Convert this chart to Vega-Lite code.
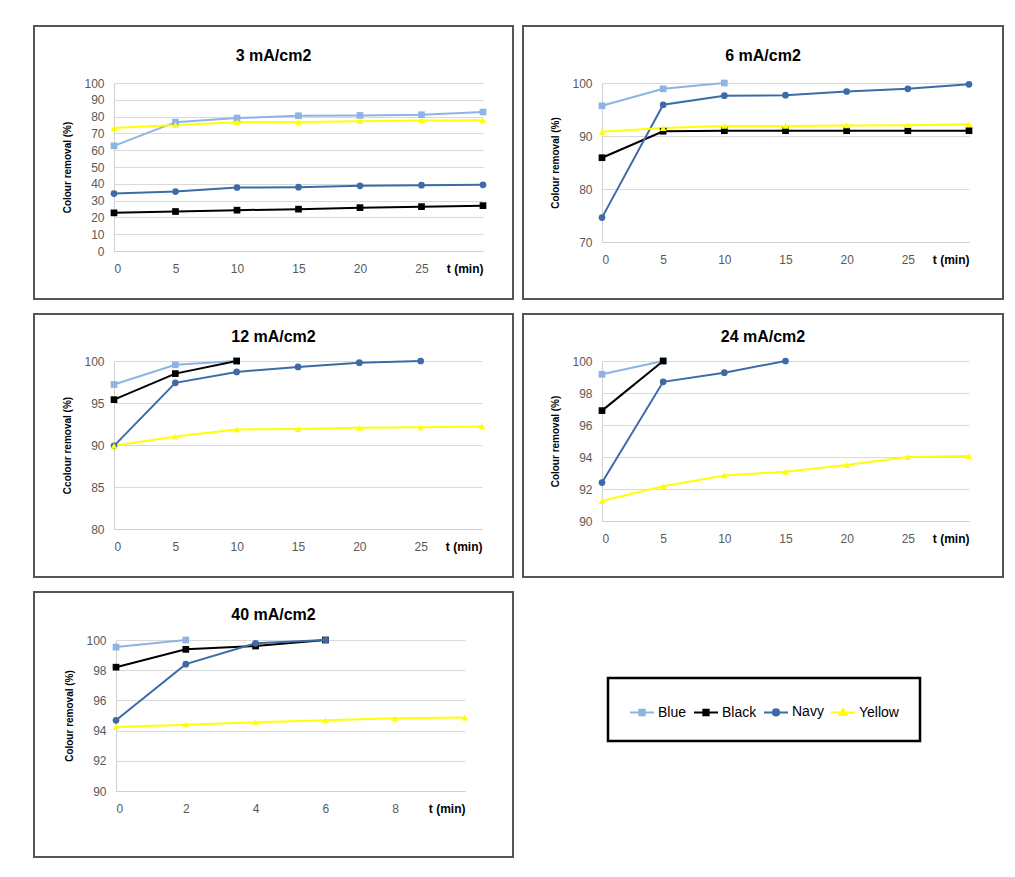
{
  "$schema": "https://vega.github.io/schema/vega-lite/v6.json",
  "padding": {"left": 33, "top": 25, "right": 5, "bottom": 5},
  "background": "white",
  "datasets": {
    "d": [
      {"p":"3","t":0,"dye":"Blue","v":62.6},{"p":"3","t":5,"dye":"Blue","v":76.7},{"p":"3","t":10,"dye":"Blue","v":79.1},{"p":"3","t":15,"dye":"Blue","v":80.5},{"p":"3","t":20,"dye":"Blue","v":80.7},{"p":"3","t":25,"dye":"Blue","v":81.1},{"p":"3","t":30,"dye":"Blue","v":82.7},
      {"p":"3","t":0,"dye":"Black","v":22.7},{"p":"3","t":5,"dye":"Black","v":23.5},{"p":"3","t":10,"dye":"Black","v":24.3},{"p":"3","t":15,"dye":"Black","v":24.9},{"p":"3","t":20,"dye":"Black","v":25.8},{"p":"3","t":25,"dye":"Black","v":26.4},{"p":"3","t":30,"dye":"Black","v":27.0},
      {"p":"3","t":0,"dye":"Navy","v":34.2},{"p":"3","t":5,"dye":"Navy","v":35.4},{"p":"3","t":10,"dye":"Navy","v":37.8},{"p":"3","t":15,"dye":"Navy","v":38.0},{"p":"3","t":20,"dye":"Navy","v":38.8},{"p":"3","t":25,"dye":"Navy","v":39.2},{"p":"3","t":30,"dye":"Navy","v":39.4},
      {"p":"3","t":0,"dye":"Yellow","v":73.2},{"p":"3","t":5,"dye":"Yellow","v":75.0},{"p":"3","t":10,"dye":"Yellow","v":76.7},{"p":"3","t":15,"dye":"Yellow","v":76.8},{"p":"3","t":20,"dye":"Yellow","v":77.3},{"p":"3","t":25,"dye":"Yellow","v":77.7},{"p":"3","t":30,"dye":"Yellow","v":77.9},

      {"p":"6","t":0,"dye":"Blue","v":95.7},{"p":"6","t":5,"dye":"Blue","v":98.9},{"p":"6","t":10,"dye":"Blue","v":100},
      {"p":"6","t":0,"dye":"Black","v":85.9},{"p":"6","t":5,"dye":"Black","v":90.9},{"p":"6","t":10,"dye":"Black","v":91},{"p":"6","t":15,"dye":"Black","v":91},{"p":"6","t":20,"dye":"Black","v":91},{"p":"6","t":25,"dye":"Black","v":91},{"p":"6","t":30,"dye":"Black","v":91},
      {"p":"6","t":0,"dye":"Navy","v":74.6},{"p":"6","t":5,"dye":"Navy","v":95.9},{"p":"6","t":10,"dye":"Navy","v":97.6},{"p":"6","t":15,"dye":"Navy","v":97.7},{"p":"6","t":20,"dye":"Navy","v":98.4},{"p":"6","t":25,"dye":"Navy","v":98.9},{"p":"6","t":30,"dye":"Navy","v":99.75},
      {"p":"6","t":0,"dye":"Yellow","v":90.8},{"p":"6","t":5,"dye":"Yellow","v":91.5},{"p":"6","t":10,"dye":"Yellow","v":91.9},{"p":"6","t":15,"dye":"Yellow","v":91.9},{"p":"6","t":20,"dye":"Yellow","v":92.0},{"p":"6","t":25,"dye":"Yellow","v":92.05},{"p":"6","t":30,"dye":"Yellow","v":92.2},

      {"p":"12","t":0,"dye":"Blue","v":97.2},{"p":"12","t":5,"dye":"Blue","v":99.55},{"p":"12","t":10,"dye":"Blue","v":100},
      {"p":"12","t":0,"dye":"Black","v":95.4},{"p":"12","t":5,"dye":"Black","v":98.5},{"p":"12","t":10,"dye":"Black","v":100},
      {"p":"12","t":0,"dye":"Navy","v":89.9},{"p":"12","t":5,"dye":"Navy","v":97.4},{"p":"12","t":10,"dye":"Navy","v":98.7},{"p":"12","t":15,"dye":"Navy","v":99.3},{"p":"12","t":20,"dye":"Navy","v":99.8},{"p":"12","t":25,"dye":"Navy","v":100},
      {"p":"12","t":0,"dye":"Yellow","v":89.9},{"p":"12","t":5,"dye":"Yellow","v":91.0},{"p":"12","t":10,"dye":"Yellow","v":91.85},{"p":"12","t":15,"dye":"Yellow","v":91.9},{"p":"12","t":20,"dye":"Yellow","v":92.05},{"p":"12","t":25,"dye":"Yellow","v":92.1},{"p":"12","t":30,"dye":"Yellow","v":92.2},

      {"p":"24","t":0,"dye":"Blue","v":99.17},{"p":"24","t":5,"dye":"Blue","v":100},
      {"p":"24","t":0,"dye":"Black","v":96.9},{"p":"24","t":5,"dye":"Black","v":100},
      {"p":"24","t":0,"dye":"Navy","v":92.4},{"p":"24","t":5,"dye":"Navy","v":98.7},{"p":"24","t":10,"dye":"Navy","v":99.27},{"p":"24","t":15,"dye":"Navy","v":100},
      {"p":"24","t":0,"dye":"Yellow","v":91.25},{"p":"24","t":5,"dye":"Yellow","v":92.17},{"p":"24","t":10,"dye":"Yellow","v":92.85},{"p":"24","t":15,"dye":"Yellow","v":93.08},{"p":"24","t":20,"dye":"Yellow","v":93.5},{"p":"24","t":25,"dye":"Yellow","v":94.0},{"p":"24","t":30,"dye":"Yellow","v":94.06},

      {"p":"40","t":0,"dye":"Blue","v":99.53},{"p":"40","t":2,"dye":"Blue","v":100},
      {"p":"40","t":0,"dye":"Black","v":98.2},{"p":"40","t":2,"dye":"Black","v":99.38},{"p":"40","t":4,"dye":"Black","v":99.6},{"p":"40","t":6,"dye":"Black","v":100},
      {"p":"40","t":0,"dye":"Navy","v":94.68},{"p":"40","t":2,"dye":"Navy","v":98.4},{"p":"40","t":4,"dye":"Navy","v":99.78},{"p":"40","t":6,"dye":"Navy","v":100},
      {"p":"40","t":0,"dye":"Yellow","v":94.24},{"p":"40","t":2,"dye":"Yellow","v":94.39},{"p":"40","t":4,"dye":"Yellow","v":94.55},{"p":"40","t":6,"dye":"Yellow","v":94.68},{"p":"40","t":8,"dye":"Yellow","v":94.81},{"p":"40","t":10,"dye":"Yellow","v":94.86}
    ]
  },
  "data": {"name": "d"},
  "columns": 2,
  "spacing": {"row": 15, "column": 10},
  "bounds": "flush",
  "concat": [
    {
      "width": 479, "height": 273,
      "title": {"text": "3 mA/cm2", "offset": -38},
      "transform": [{"filter": "datum.p == '3'"}],
      "encoding": {
        "x": {"field": "t", "type": "quantitative", "scale": {"domain": [0, 30], "range": [80, 449], "nice": false},
              "axis": {"values": [0,5,10,15,20,25,30], "offset": -48, "labelExpr": "datum.value == 30 ? 't (min)' : datum.label",
                       "labelFontWeight": {"condition": {"test": "datum.value == 30", "value": "bold"}, "value": "normal"},
                       "labelColor": {"condition": {"test": "datum.value == 30", "value": "#000000"}, "value": "#595959"}}},
        "y": {"field": "v", "type": "quantitative", "scale": {"domain": [0, 100], "range": [225, 57], "nice": false, "zero": false},
              "axis": {"values": [0,10,20,30,40,50,60,70,80,90,100], "offset": -80, "title": "Colour removal (%)"}},
        "color": {"field": "dye", "type": "nominal",
                  "scale": {"domain": ["Blue","Black","Navy","Yellow"], "range": ["#8DB4E2","#000000","#3D6BA8","#FFFF00"]},
                  "legend": {"title": null, "encode": {"symbols": {"update": {"shape": {"signal": "datum.value === 'Navy' ? 'M-1,0H1M0.26,0A0.26,0.26,0,1,1,-0.26,0A0.26,0.26,0,1,1,0.26,0Z' : datum.value === 'Yellow' ? 'M-1,0H1M0,-0.29L0.29,0.21L-0.29,0.21Z' : 'M-1,0H1M-0.22,-0.22H0.22V0.22H-0.22Z'"}, "fill": {"scale": "color", "field": "value"}, "stroke": {"scale": "color", "field": "value"}, "strokeWidth": {"value": 2}, "opacity": {"value": 1}}}, "legend": {"update": {"strokeWidth": {"value": 2.5}}}}}}
      },
      "layer": [
        {"mark": {"type": "line", "strokeWidth": 2}},
        {"transform": [{"filter": "datum.dye == 'Blue' || datum.dye == 'Black'"}], "mark": {"type": "point", "shape": "square", "filled": true, "opacity": 1, "size": 45}},
        {"transform": [{"filter": "datum.dye == 'Navy'"}], "mark": {"type": "point", "shape": "circle", "filled": true, "opacity": 1, "size": 45}},
        {"transform": [{"filter": "datum.dye == 'Yellow'"}], "mark": {"type": "point", "shape": "triangle-up", "filled": true, "opacity": 1, "size": 45}}
      ]
    },
    {
      "width": 480, "height": 273,
      "title": {"text": "6 mA/cm2", "offset": -38},
      "transform": [{"filter": "datum.p == '6'"}],
      "encoding": {
        "x": {"field": "t", "type": "quantitative", "scale": {"domain": [0, 30], "range": [79, 446], "nice": false},
              "axis": {"values": [0,5,10,15,20,25,30], "offset": -57, "labelExpr": "datum.value == 30 ? 't (min)' : datum.label",
                       "labelFontWeight": {"condition": {"test": "datum.value == 30", "value": "bold"}, "value": "normal"},
                       "labelColor": {"condition": {"test": "datum.value == 30", "value": "#000000"}, "value": "#595959"}}},
        "y": {"field": "v", "type": "quantitative", "scale": {"domain": [70, 100], "range": [216, 57], "nice": false, "zero": false},
              "axis": {"values": [70,80,90,100], "offset": -79, "title": "Colour removal (%)"}},
        "color": {"field": "dye", "type": "nominal",
                  "scale": {"domain": ["Blue","Black","Navy","Yellow"], "range": ["#8DB4E2","#000000","#3D6BA8","#FFFF00"]},
                  "legend": {"title": null, "encode": {"symbols": {"update": {"shape": {"signal": "datum.value === 'Navy' ? 'M-1,0H1M0.26,0A0.26,0.26,0,1,1,-0.26,0A0.26,0.26,0,1,1,0.26,0Z' : datum.value === 'Yellow' ? 'M-1,0H1M0,-0.29L0.29,0.21L-0.29,0.21Z' : 'M-1,0H1M-0.22,-0.22H0.22V0.22H-0.22Z'"}, "fill": {"scale": "color", "field": "value"}, "stroke": {"scale": "color", "field": "value"}, "strokeWidth": {"value": 2}, "opacity": {"value": 1}}}, "legend": {"update": {"strokeWidth": {"value": 2.5}}}}}}
      },
      "layer": [
        {"mark": {"type": "line", "strokeWidth": 2}},
        {"transform": [{"filter": "datum.dye == 'Blue' || datum.dye == 'Black'"}], "mark": {"type": "point", "shape": "square", "filled": true, "opacity": 1, "size": 45}},
        {"transform": [{"filter": "datum.dye == 'Navy'"}], "mark": {"type": "point", "shape": "circle", "filled": true, "opacity": 1, "size": 45}},
        {"transform": [{"filter": "datum.dye == 'Yellow'"}], "mark": {"type": "point", "shape": "triangle-up", "filled": true, "opacity": 1, "size": 45}}
      ]
    },
    {
      "width": 479, "height": 263,
      "title": {"text": "12 mA/cm2", "offset": -31},
      "transform": [{"filter": "datum.p == '12'"}],
      "encoding": {
        "x": {"field": "t", "type": "quantitative", "scale": {"domain": [0, 30], "range": [80, 448], "nice": false},
              "axis": {"values": [0,5,10,15,20,25,30], "offset": -48, "labelExpr": "datum.value == 30 ? 't (min)' : datum.label",
                       "labelFontWeight": {"condition": {"test": "datum.value == 30", "value": "bold"}, "value": "normal"},
                       "labelColor": {"condition": {"test": "datum.value == 30", "value": "#000000"}, "value": "#595959"}}},
        "y": {"field": "v", "type": "quantitative", "scale": {"domain": [80, 100], "range": [215, 47], "nice": false, "zero": false},
              "axis": {"values": [80,85,90,95,100], "offset": -80, "title": "Ccolour removal (%)"}},
        "color": {"field": "dye", "type": "nominal",
                  "scale": {"domain": ["Blue","Black","Navy","Yellow"], "range": ["#8DB4E2","#000000","#3D6BA8","#FFFF00"]},
                  "legend": {"title": null, "encode": {"symbols": {"update": {"shape": {"signal": "datum.value === 'Navy' ? 'M-1,0H1M0.26,0A0.26,0.26,0,1,1,-0.26,0A0.26,0.26,0,1,1,0.26,0Z' : datum.value === 'Yellow' ? 'M-1,0H1M0,-0.29L0.29,0.21L-0.29,0.21Z' : 'M-1,0H1M-0.22,-0.22H0.22V0.22H-0.22Z'"}, "fill": {"scale": "color", "field": "value"}, "stroke": {"scale": "color", "field": "value"}, "strokeWidth": {"value": 2}, "opacity": {"value": 1}}}, "legend": {"update": {"strokeWidth": {"value": 2.5}}}}}}
      },
      "layer": [
        {"mark": {"type": "line", "strokeWidth": 2}},
        {"transform": [{"filter": "datum.dye == 'Blue' || datum.dye == 'Black'"}], "mark": {"type": "point", "shape": "square", "filled": true, "opacity": 1, "size": 45}},
        {"transform": [{"filter": "datum.dye == 'Navy'"}], "mark": {"type": "point", "shape": "circle", "filled": true, "opacity": 1, "size": 45}},
        {"transform": [{"filter": "datum.dye == 'Yellow'"}], "mark": {"type": "point", "shape": "triangle-up", "filled": true, "opacity": 1, "size": 45}}
      ]
    },
    {
      "width": 480, "height": 263,
      "title": {"text": "24 mA/cm2", "offset": -31},
      "transform": [{"filter": "datum.p == '24'"}],
      "encoding": {
        "x": {"field": "t", "type": "quantitative", "scale": {"domain": [0, 30], "range": [79, 446], "nice": false},
              "axis": {"values": [0,5,10,15,20,25,30], "offset": -56, "labelExpr": "datum.value == 30 ? 't (min)' : datum.label",
                       "labelFontWeight": {"condition": {"test": "datum.value == 30", "value": "bold"}, "value": "normal"},
                       "labelColor": {"condition": {"test": "datum.value == 30", "value": "#000000"}, "value": "#595959"}}},
        "y": {"field": "v", "type": "quantitative", "scale": {"domain": [90, 100], "range": [207, 47], "nice": false, "zero": false},
              "axis": {"values": [90,92,94,96,98,100], "offset": -79, "title": "Colour removal (%)"}},
        "color": {"field": "dye", "type": "nominal",
                  "scale": {"domain": ["Blue","Black","Navy","Yellow"], "range": ["#8DB4E2","#000000","#3D6BA8","#FFFF00"]},
                  "legend": {"title": null, "encode": {"symbols": {"update": {"shape": {"signal": "datum.value === 'Navy' ? 'M-1,0H1M0.26,0A0.26,0.26,0,1,1,-0.26,0A0.26,0.26,0,1,1,0.26,0Z' : datum.value === 'Yellow' ? 'M-1,0H1M0,-0.29L0.29,0.21L-0.29,0.21Z' : 'M-1,0H1M-0.22,-0.22H0.22V0.22H-0.22Z'"}, "fill": {"scale": "color", "field": "value"}, "stroke": {"scale": "color", "field": "value"}, "strokeWidth": {"value": 2}, "opacity": {"value": 1}}}, "legend": {"update": {"strokeWidth": {"value": 2.5}}}}}}
      },
      "layer": [
        {"mark": {"type": "line", "strokeWidth": 2}},
        {"transform": [{"filter": "datum.dye == 'Blue' || datum.dye == 'Black'"}], "mark": {"type": "point", "shape": "square", "filled": true, "opacity": 1, "size": 45}},
        {"transform": [{"filter": "datum.dye == 'Navy'"}], "mark": {"type": "point", "shape": "circle", "filled": true, "opacity": 1, "size": 45}},
        {"transform": [{"filter": "datum.dye == 'Yellow'"}], "mark": {"type": "point", "shape": "triangle-up", "filled": true, "opacity": 1, "size": 45}}
      ]
    },
    {
      "width": 479, "height": 265,
      "title": {"text": "40 mA/cm2", "offset": -31},
      "transform": [{"filter": "datum.p == '40'"}],
      "encoding": {
        "x": {"field": "t", "type": "quantitative", "scale": {"domain": [0, 10], "range": [82, 431], "nice": false},
              "axis": {"values": [0,2,4,6,8,10], "offset": -66, "labelExpr": "datum.value == 10 ? 't (min)' : datum.label",
                       "labelFontWeight": {"condition": {"test": "datum.value == 10", "value": "bold"}, "value": "normal"},
                       "labelColor": {"condition": {"test": "datum.value == 10", "value": "#000000"}, "value": "#595959"}}},
        "y": {"field": "v", "type": "quantitative", "scale": {"domain": [90, 100], "range": [199, 48], "nice": false, "zero": false},
              "axis": {"values": [90,92,94,96,98,100], "offset": -82, "title": "Colour removal (%)"}},
        "color": {"field": "dye", "type": "nominal",
                  "scale": {"domain": ["Blue","Black","Navy","Yellow"], "range": ["#8DB4E2","#000000","#3D6BA8","#FFFF00"]},
                  "legend": {"title": null, "encode": {"symbols": {"update": {"shape": {"signal": "datum.value === 'Navy' ? 'M-1,0H1M0.26,0A0.26,0.26,0,1,1,-0.26,0A0.26,0.26,0,1,1,0.26,0Z' : datum.value === 'Yellow' ? 'M-1,0H1M0,-0.29L0.29,0.21L-0.29,0.21Z' : 'M-1,0H1M-0.22,-0.22H0.22V0.22H-0.22Z'"}, "fill": {"scale": "color", "field": "value"}, "stroke": {"scale": "color", "field": "value"}, "strokeWidth": {"value": 2}, "opacity": {"value": 1}}}, "legend": {"update": {"strokeWidth": {"value": 2.5}}}}}}
      },
      "layer": [
        {"mark": {"type": "line", "strokeWidth": 2}},
        {"transform": [{"filter": "datum.dye == 'Blue' || datum.dye == 'Black'"}], "mark": {"type": "point", "shape": "square", "filled": true, "opacity": 1, "size": 45}},
        {"transform": [{"filter": "datum.dye == 'Navy'"}], "mark": {"type": "point", "shape": "circle", "filled": true, "opacity": 1, "size": 45}},
        {"transform": [{"filter": "datum.dye == 'Yellow'"}], "mark": {"type": "point", "shape": "triangle-up", "filled": true, "opacity": 1, "size": 45}}
      ]
    }
  ],
  "config": {
    "view": {"stroke": "#555555", "strokeWidth": 2},
    "axis": {"grid": false, "ticks": false, "domainColor": "#D0D0D0", "labelColor": "#595959", "labelFont": "Liberation Sans", "labelFontSize": 12, "titleFont": "Liberation Sans", "titleFontSize": 10, "titleFontWeight": "bold", "titleColor": "#000000"},
    "axisY": {"grid": true, "gridColor": "#D9D9D9", "labelPadding": 10, "titlePadding": 11},
    "axisX": {"labelPadding": 12, "title": null},
    "title": {"font": "Liberation Sans", "fontSize": 16, "fontWeight": "bold", "color": "#000000", "frame": "group", "anchor": "middle", "baseline": "middle"},
    "legend": {"orient": "none", "legendX": 574, "legendY": 652, "direction": "horizontal", "columns": 4, "strokeColor": "#000000", "padding": 21, "symbolSize": 576, "labelFont": "Liberation Sans", "labelFontSize": 14, "labelColor": "#000000", "labelOffset": 3, "columnPadding": 3}
  }
}
